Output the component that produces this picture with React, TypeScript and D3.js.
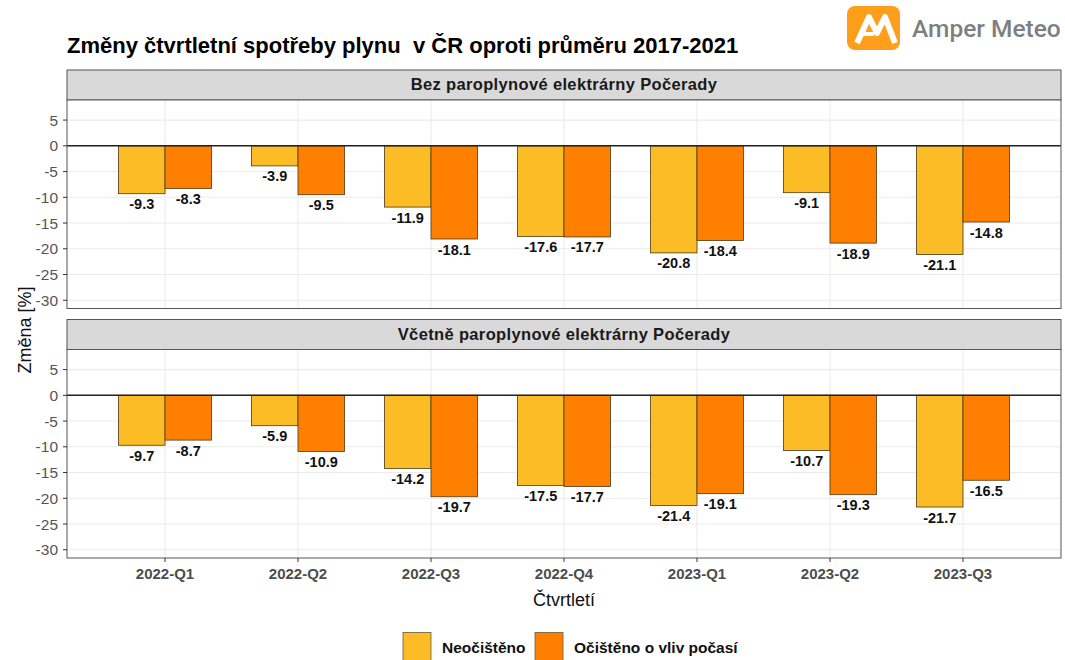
import React from "react";
import * as d3 from "d3";

// quarters on the x axis
const quarters = ["2022-Q1", "2022-Q2", "2022-Q3", "2022-Q4", "2023-Q1", "2023-Q2", "2023-Q3"];
const seriesNames = ["Neočištěno", "Očištěno o vliv počasí"];
const panelTitles = [
  "Bez paroplynové elektrárny Počerady",
  "Včetně paroplynové elektrárny Počerady",
];

// panel 1: without Počerady
const bezRaw = [-9.3, -3.9, -11.9, -17.6, -20.8, -9.1, -21.1];
const bezAdj = [-8.3, -9.5, -18.1, -17.7, -18.4, -18.9, -14.8];
// panel 2: including Počerady
const vcRaw = [-9.7, -5.9, -14.2, -17.5, -21.4, -10.7, -21.7];
const vcAdj = [-8.7, -10.9, -19.7, -17.7, -19.1, -19.3, -16.5];

const yTicks = [5, 0, -5, -10, -15, -20, -25, -30];

const W = 1065;
const H = 660;
const colors = ["#FBBC26", "#FF8000"];
const font = "'Liberation Sans', Arial, sans-serif";

const left = 67;
const right = 1061;
const panels = [
  { stripTop: 70, top: 100, bottom: 308.5, raw: bezRaw, adj: bezAdj },
  { stripTop: 319.5, top: 349.5, bottom: 558, raw: vcRaw, adj: vcAdj },
];

const x = d3.scaleBand().domain(quarters).range([left, right]).paddingInner(0).paddingOuter(0.237);
const inner = d3
  .scaleBand()
  .domain(["0", "1"])
  .range([x.bandwidth() * 0.15, x.bandwidth() * 0.85]);

const Panel = ({ p, idx }) => {
  const y = d3.scaleLinear().domain([-31.6, 8.9]).range([p.bottom, p.top]);
  const series = [p.raw, p.adj];
  return (
    <g>
      {/* strip */}
      <rect x={left} y={p.stripTop} width={right - left} height={p.top - p.stripTop} fill="#d9d9d9" stroke="#555" strokeWidth={1} />
      <text x={(left + right) / 2} y={p.stripTop + 20} textAnchor="middle" fontFamily={font} fontWeight="bold" fontSize={16.5} letterSpacing={0.35} fill="#1a1a1a">
        {panelTitles[idx]}
      </text>
      <rect x={left} y={p.top} width={right - left} height={p.bottom - p.top} fill="#fff" />
      {/* gridlines */}
      {yTicks.map((t) => (
        <line key={"g" + t} x1={left} x2={right} y1={y(t)} y2={y(t)} stroke="#ebebeb" strokeWidth={1.1} />
      ))}
      {quarters.map((q) => (
        <line key={"v" + q} x1={x(q) + x.bandwidth() / 2} x2={x(q) + x.bandwidth() / 2} y1={p.top} y2={p.bottom} stroke="#ebebeb" strokeWidth={1.1} />
      ))}
      {/* bars */}
      {series.map((vals, si) =>
        vals.map((v, i) => (
          <rect
            key={si + "-" + i}
            x={x(quarters[i]) + inner(String(si))}
            y={y(0)}
            width={inner.bandwidth()}
            height={y(v) - y(0)}
            fill={colors[si]}
            stroke="#4a3a1a"
            strokeWidth={0.8}
          />
        ))
      )}
      <line x1={left} x2={right} y1={y(0)} y2={y(0)} stroke="#222" strokeWidth={1.4} />
      {/* value labels */}
      {series.map((vals, si) =>
        vals.map((v, i) => (
          <text
            key={"l" + si + "-" + i}
            x={x(quarters[i]) + inner(String(si)) + inner.bandwidth() / 2}
            y={y(v) + 15.5}
            textAnchor="middle"
            fontFamily={font}
            fontWeight="bold"
            fontSize={14.5}
            fill="#111"
          >
            {v.toFixed(1)}
          </text>
        ))
      )}
      <rect x={left} y={p.top} width={right - left} height={p.bottom - p.top} fill="none" stroke="#555" strokeWidth={1} />
      {/* y axis */}
      {yTicks.map((t) => (
        <g key={"t" + t}>
          <line x1={left - 4} x2={left} y1={y(t)} y2={y(t)} stroke="#333" />
          <text x={left - 9} y={y(t) + 5.5} textAnchor="end" fontFamily={font} fontSize={15.5} fill="#555">
            {t}
          </text>
        </g>
      ))}
    </g>
  );
};

const Logo = () => (
  <g>
    <rect x={847} y={6} width={53} height={44} rx={8} fill="#FF9E1B" />
    <path d="M857 43 L869 17 L877 33 L885 17 L895 43" fill="none" stroke="#fff" strokeWidth={6} strokeLinejoin="round" />
    <path d="M862 34 L874 34" stroke="#fff" strokeWidth={4} />
    <text x={912} y={37} fontFamily="'Roboto', 'Liberation Sans', Arial, sans-serif" fontSize={24.5} fill="#7f7f7f" fontWeight={500}>
      Amper Meteo
    </text>
  </g>
);

export default function App() {
  const xb = panels[1].bottom;
  return (
    <svg width={W} height={H} style={{ position: "absolute", left: 0, top: 0, background: "#fff" }}>
      <rect width={W} height={H} fill="#fff" />
      <Logo />
      <text x={67} y={53} fontFamily={font} fontWeight="bold" fontSize={22} fill="#000" style={{ whiteSpace: "pre" }}>
        {"Změny čtvrtletní spotřeby plynu  v ČR oproti průměru 2017-2021"}
      </text>
      {panels.map((p, i) => (
        <Panel key={i} p={p} idx={i} />
      ))}
      {/* x axis */}
      {quarters.map((q) => (
        <g key={q}>
          <line x1={x(q) + x.bandwidth() / 2} x2={x(q) + x.bandwidth() / 2} y1={xb} y2={xb + 4} stroke="#333" />
          <text x={x(q) + x.bandwidth() / 2} y={xb + 21} textAnchor="middle" fontFamily={font} fontWeight="bold" fontSize={15} fill="#4d4d4d">
            {q}
          </text>
        </g>
      ))}
      <text x={(left + right) / 2} y={606} textAnchor="middle" fontFamily={font} fontSize={18} fill="#111">
        Čtvrtletí
      </text>
      <text transform={`translate(31, 330) rotate(-90)`} textAnchor="middle" fontFamily={font} fontSize={18} fill="#111">
        Změna [%]
      </text>
      {/* legend */}
      {seriesNames.map((s, i) => {
        const lx = [403, 535][i];
        return (
          <g key={s}>
            <rect x={lx} y={632.5} width={28} height={34} fill={colors[i]} stroke="#6b5a3a" strokeWidth={0.8} />
            <text x={lx + 39} y={653} fontFamily={font} fontWeight="bold" fontSize={15.5} fill="#111">
              {s}
            </text>
          </g>
        );
      })}
    </svg>
  );
}
